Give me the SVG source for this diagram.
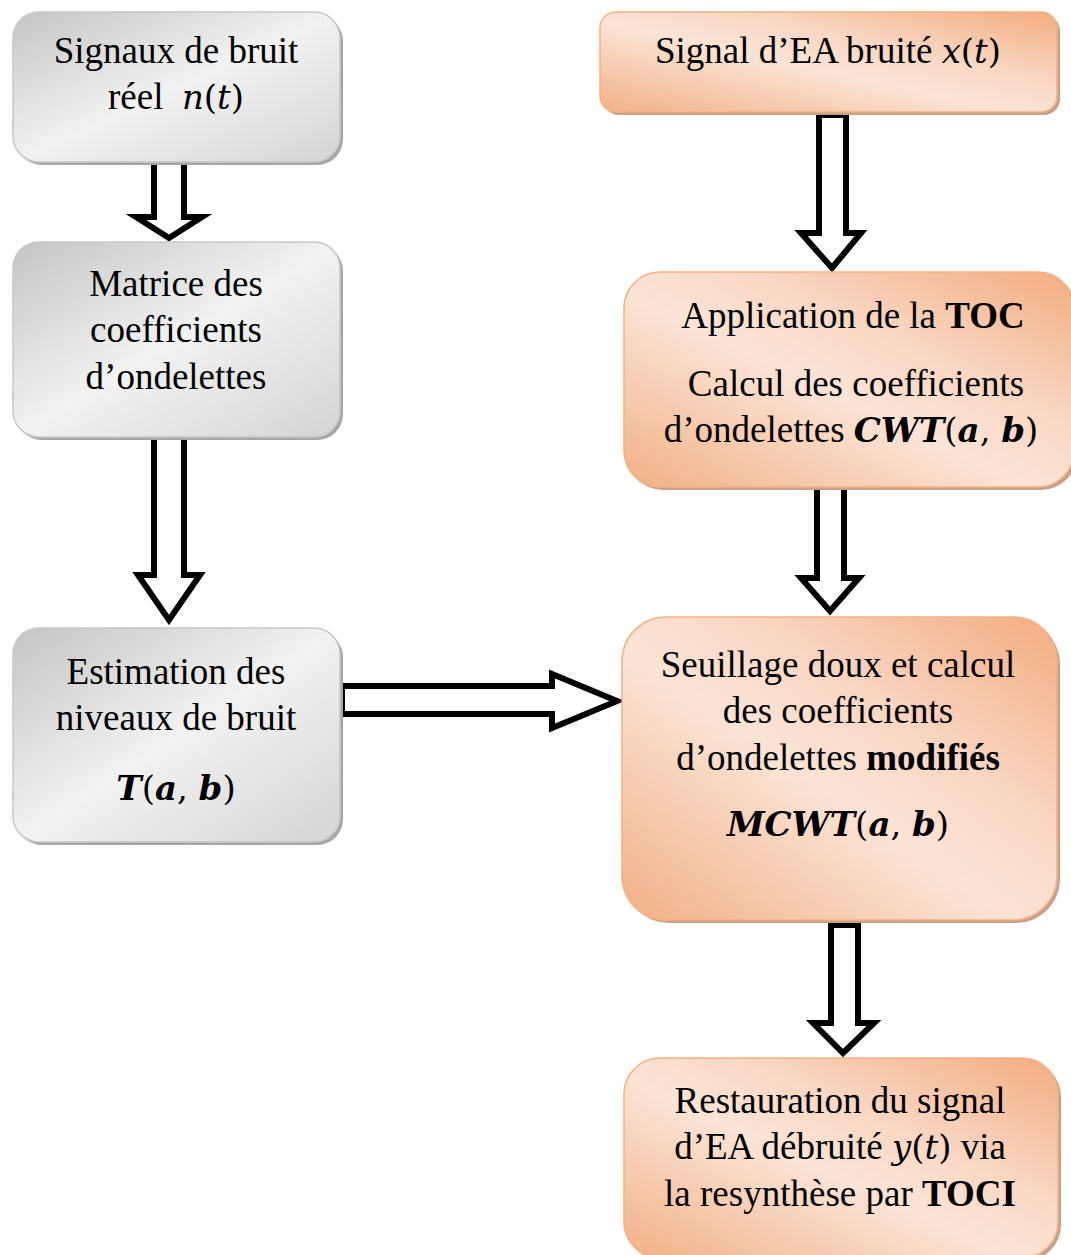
<svg xmlns="http://www.w3.org/2000/svg" width="1071" height="1255" viewBox="0 0 1071 1255">
<style>
text{font-family:"Liberation Serif","Times New Roman",serif;font-size:37px;fill:#000;text-anchor:middle}
.m{font-family:"DejaVu Serif",serif;font-style:italic;font-size:34px}
.p{font-family:"DejaVu Serif",serif;font-size:34px}
.b{font-weight:bold}
.bm{font-family:"DejaVu Serif",serif;font-weight:bold;font-style:italic;font-size:34px}
.g{fill:url(#gg);stroke:#c8c8c8;stroke-width:1.5}
.o{fill:url(#og);stroke:#f4b183;stroke-width:1.5}
.sh{fill:#a6a6a6}
.osh{fill:#c9a08a}
.arr{fill:#fff;stroke:#000;stroke-width:6;stroke-linejoin:miter}
</style>
<defs>
<linearGradient id="gg" x1="0" y1="0" x2="1" y2="1">
<stop offset="0" stop-color="#c4c4c4"/>
<stop offset="0.5" stop-color="#f2f2f2"/>
<stop offset="1" stop-color="#d4d4d4"/>
</linearGradient>
<linearGradient id="og" x1="0" y1="1" x2="1" y2="0">
<stop offset="0" stop-color="#f2b085"/>
<stop offset="0.45" stop-color="#fbe4d6"/>
<stop offset="0.65" stop-color="#f9d6c2"/>
<stop offset="1" stop-color="#f2ac7e"/>
</linearGradient>
</defs>

<g id="connectors">
<path class="arr" d="M154,162 L184,162 L184,217 L202,217 L169,238 L136,217 L154,217 Z"/>
<path class="arr" d="M154,435 L184,435 L184,575 L200,575 L169,620 L138,575 L154,575 Z"/>
<path class="arr" d="M342,686 L552,686 L552,674 L617,701 L552,728 L552,714 L342,714 Z"/>
<path class="arr" d="M819,115 L846,115 L846,233 L861,233 L832,268 L801,233 L819,233 Z"/>
<path class="arr" d="M817,484 L844,484 L844,578 L859,578 L830,611 L801,578 L817,578 Z"/>
<path class="arr" d="M831,925 L858,925 L858,1023 L874,1023 L843,1053 L813,1023 L831,1023 Z"/>
</g>

<g id="n1">
<rect class="sh" x="16" y="15" width="327" height="150" rx="26"/>
<rect class="g" x="13" y="12" width="327" height="150" rx="26"/>
<text x="176" y="63">Signaux de bruit</text>
<text x="176" y="109">réel&#160; <tspan class="m">n</tspan><tspan class="p">(</tspan><tspan class="m">t</tspan><tspan class="p">)</tspan></text>
</g>

<g id="n2">
<rect class="sh" x="16" y="245" width="327" height="195" rx="26"/>
<rect class="g" x="13" y="242" width="327" height="195" rx="26"/>
<text x="176" y="296">Matrice des</text>
<text x="176" y="342">coefficients</text>
<text x="176" y="389">d’ondelettes</text>
</g>

<g id="n3">
<rect class="sh" x="16" y="631" width="327" height="214" rx="26"/>
<rect class="g" x="13" y="628" width="327" height="214" rx="26"/>
<text x="176" y="684">Estimation des</text>
<text x="176" y="730">niveaux de bruit</text>
<text x="176" y="800"><tspan class="bm">T</tspan><tspan class="p">(</tspan><tspan class="bm">a</tspan><tspan class="p">, </tspan><tspan class="bm">b</tspan><tspan class="p">)</tspan></text>
</g>

<g id="nA">
<rect class="osh" x="603" y="15" width="457" height="100" rx="16"/>
<rect class="o" x="600" y="12" width="457" height="100" rx="16"/>
<text x="828" y="63">Signal d’EA bruité <tspan class="m">x</tspan><tspan class="p">(</tspan><tspan class="m">t</tspan><tspan class="p">)</tspan></text>
</g>

<g id="nB">
<rect class="osh" x="627" y="275" width="450" height="215" rx="36"/>
<rect class="o" x="624" y="272" width="450" height="215" rx="36"/>
<text x="853" y="328">Application de la <tspan class="b">TOC</tspan></text>
<text x="856" y="396">Calcul des coefficients</text>
<text x="851" y="442">d’ondelettes <tspan class="bm">CWT</tspan><tspan class="p">(</tspan><tspan class="bm">a</tspan><tspan class="p">, </tspan><tspan class="bm">b</tspan><tspan class="p">)</tspan></text>
</g>

<g id="nC">
<rect class="osh" x="625" y="620" width="435" height="303" rx="44"/>
<rect class="o" x="622" y="617" width="435" height="303" rx="44"/>
<text x="838" y="677">Seuillage doux et calcul</text>
<text x="838" y="723">des coefficients</text>
<text x="838" y="770">d’ondelettes <tspan class="b">modifiés</tspan></text>
<text x="838" y="836"><tspan class="bm">MCWT</tspan><tspan class="p">(</tspan><tspan class="bm">a</tspan><tspan class="p">, </tspan><tspan class="bm">b</tspan><tspan class="p">)</tspan></text>
</g>

<g id="nD">
<rect class="osh" x="627" y="1061" width="434" height="200" rx="36"/>
<rect class="o" x="624" y="1058" width="434" height="200" rx="36"/>
<text x="840" y="1113">Restauration du signal</text>
<text x="840" y="1159">d’EA débruité <tspan class="m">y</tspan><tspan class="p">(</tspan><tspan class="m">t</tspan><tspan class="p">)</tspan> via</text>
<text x="840" y="1206">la resynthèse par <tspan class="b">TOCI</tspan></text>
</g>
</svg>
